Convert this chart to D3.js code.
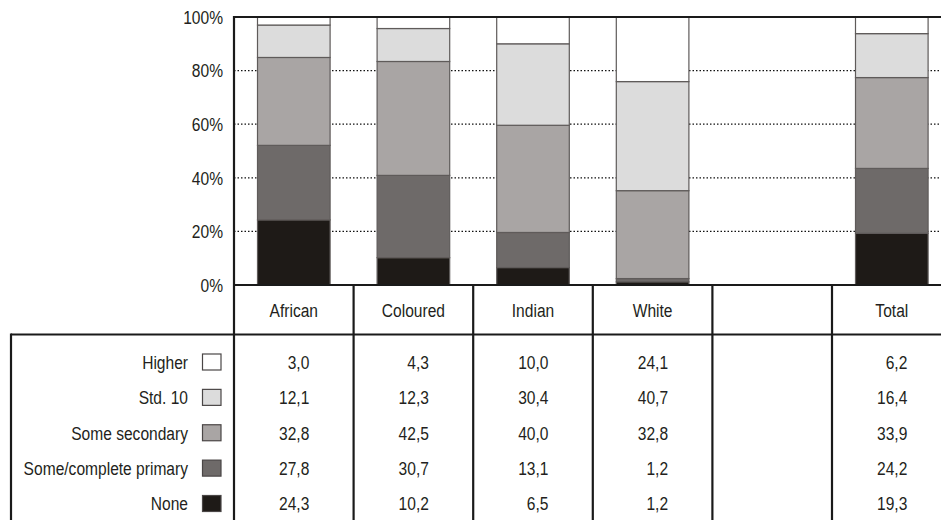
<!DOCTYPE html>
<html>
<head>
<meta charset="utf-8">
<script src="https://cdn.jsdelivr.net/npm/d3@7/dist/d3.min.js"></script>
<style>
  html, body { margin: 0; padding: 0; background: #fff; }
  svg { display: block; }
  text { font-family: "Liberation Sans", Arial, sans-serif; font-size: 19px; fill: #231f20; }
</style>
</head>
<body>
<svg id="chart" width="941" height="522"></svg>
<script>
// ---------- DATA ----------
const categories = ["African", "Coloured", "Indian", "White", "", "Total"];
const seriesNames = ["None", "Some/complete primary", "Some secondary", "Std. 10", "Higher"];
const noneVals      = [24.3, 10.2,  6.5,  1.2, null, 19.3];
const primaryVals   = [27.8, 30.7, 13.1,  1.2, null, 24.2];
const secondaryVals = [32.8, 42.5, 40.0, 32.8, null, 33.9];
const std10Vals     = [12.1, 12.3, 30.4, 40.7, null, 16.4];
const higherVals    = [ 3.0,  4.3, 10.0, 24.1, null,  6.2];
const yTicks = [0, 20, 40, 60, 80, 100];
const yTickLabels = ["0%", "20%", "40%", "60%", "80%", "100%"];

const seriesValues = [noneVals, primaryVals, secondaryVals, std10Vals, higherVals];
const colors = ["#1e1a17", "#6e6a69", "#a9a5a4", "#dcdcdc", "#ffffff"];

// ---------- LAYOUT ----------
const W = 941, H = 522;
const plotLeft = 234, colStep = 119.6;
const baseY = 285, topY = 17;
const headerBottom = 334.5;
const tableLeft = 11;
const narrow = 0.82; // reference typeface is a narrow sans

const svg = d3.select("#chart");

const x = d3.scaleBand()
  .domain(categories.map((c, i) => i))
  .range([plotLeft, plotLeft + colStep * categories.length])
  .padding(0);
const barFrac = 0.607;

const y = d3.scaleLinear().domain([0, 100]).range([baseY, topY]);

// table rows (top-down order)
const rowOrder = seriesNames.slice().reverse();
const rowY = d3.scalePoint().domain(rowOrder).range([362, 503.5]);

// ---------- GRIDLINES ----------
svg.append("g").selectAll("line")
  .data(yTicks.filter(t => t > 0 && t < 100))
  .join("line")
  .attr("x1", plotLeft).attr("x2", W)
  .attr("y1", d => y(d)).attr("y2", d => y(d))
  .attr("stroke", "#111").attr("stroke-width", 1.2)
  .attr("stroke-dasharray", "1.5,2");

// ---------- BARS ----------
const rows = categories.map((c, i) => {
  const o = { idx: i };
  seriesNames.forEach((s, k) => o[s] = seriesValues[k][i]);
  return o;
}).filter(d => d[seriesNames[0]] != null);

const stack = d3.stack().keys(seriesNames);
const stacked = stack(rows);

const bw = x.bandwidth() * barFrac;
svg.append("g").selectAll("g")
  .data(stacked)
  .join("g")
  .attr("fill", (d, k) => colors[k])
  .selectAll("rect")
  .data(d => d)
  .join("rect")
  .attr("x", d => x(d.data.idx) + (x.bandwidth() - bw) / 2)
  .attr("width", bw)
  .attr("y", d => y(d[1]))
  .attr("height", d => y(d[0]) - y(d[1]))
  .attr("stroke", "#5f5b5a")
  .attr("stroke-width", 1.2);

// ---------- AXIS / FRAME LINES ----------
const frame = svg.append("g").attr("stroke", "#1a1a1a").attr("stroke-width", 2.2);
frame.append("line").attr("x1", plotLeft).attr("x2", W).attr("y1", y(100)).attr("y2", y(100));
frame.append("line").attr("x1", plotLeft).attr("x2", W).attr("y1", y(0)).attr("y2", y(0));
frame.append("line").attr("x1", plotLeft).attr("x2", plotLeft).attr("y1", y(100) - 1).attr("y2", 520);
frame.append("line").attr("x1", tableLeft).attr("x2", W).attr("y1", headerBottom).attr("y2", headerBottom);
frame.append("line").attr("x1", tableLeft).attr("x2", tableLeft).attr("y1", headerBottom - 1).attr("y2", 520);
frame.selectAll("line.col")
  .data(categories.map((c, i) => i).slice(1))
  .join("line")
  .attr("class", "col")
  .attr("x1", d => x(d)).attr("x2", d => x(d))
  .attr("y1", y(0)).attr("y2", 520);

// ---------- Y TICK LABELS ----------
svg.append("g").selectAll("text")
  .data(yTicks)
  .join("text")
  .attr("x", 223)
  .attr("y", d => y(d))
  .attr("dy", "0.36em")
  .attr("text-anchor", "end")
  .text((d, i) => yTickLabels[i]);

// ---------- HEADER LABELS ----------
svg.append("g").selectAll("text")
  .data(categories.map((c, i) => ({ c, i })))
  .join("text")
  .attr("x", d => x(d.i) + x.bandwidth() / 2)
  .attr("y", (y(0) + headerBottom) / 2)
  .attr("dy", "0.36em")
  .attr("text-anchor", "middle")
  .text(d => d.c);

// ---------- LEGEND IN TABLE ----------
const leg = svg.append("g");
leg.selectAll("text")
  .data(rowOrder)
  .join("text")
  .attr("x", 188)
  .attr("y", d => rowY(d))
  .attr("dy", "0.36em")
  .attr("text-anchor", "end")
  .text(d => d);
leg.selectAll("rect")
  .data(rowOrder)
  .join("rect")
  .attr("x", 202.5)
  .attr("y", d => rowY(d) - 8)
  .attr("width", 18.5)
  .attr("height", 16)
  .attr("fill", d => colors[seriesNames.indexOf(d)])
  .attr("stroke", "#4a4646")
  .attr("stroke-width", 1.2);

// ---------- TABLE VALUES ----------
const fmt = v => d3.format(".1f")(v).replace(".", ",");
const cells = [];
rowOrder.forEach(s => {
  const k = seriesNames.indexOf(s);
  categories.forEach((c, i) => {
    const v = seriesValues[k][i];
    if (v != null) cells.push({ s, i, v });
  });
});
svg.append("g").selectAll("text")
  .data(cells)
  .join("text")
  .attr("x", d => x(d.i) + x.bandwidth() / 2 + 15.5)
  .attr("y", d => rowY(d.s))
  .attr("dy", "0.36em")
  .attr("text-anchor", "end")
  .text(d => fmt(d.v));

// ---------- condense all text horizontally ----------
svg.selectAll("text").each(function () {
  const t = d3.select(this);
  const tx = +t.attr("x"), ty = +t.attr("y");
  t.attr("x", 0).attr("y", 0)
   .attr("transform", `translate(${tx},${ty}) scale(${narrow},1)`);
});
</script>
</body>
</html>
